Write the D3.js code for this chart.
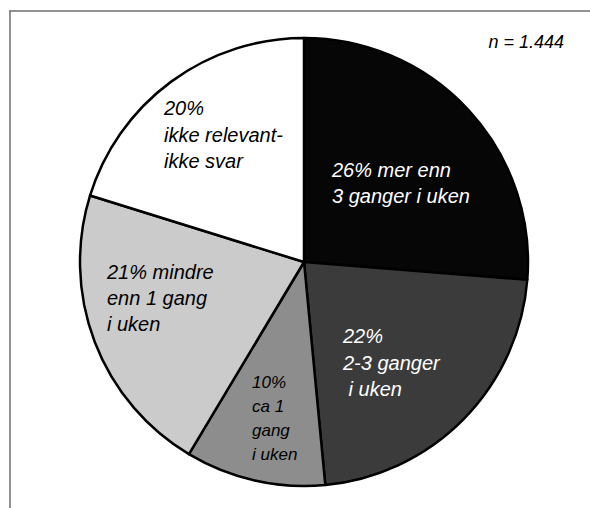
<!DOCTYPE html>
<html>
<head>
<meta charset="utf-8">
<script src="https://cdn.jsdelivr.net/npm/d3@7"></script>
<style>
  html, body { margin: 0; padding: 0; background: #fff; }
  svg { display: block; }
  text { font-family: "Liberation Sans", Arial, sans-serif; font-style: italic; }
</style>
</head>
<body>
<svg id="chart" width="590" height="508"></svg>
<script>
// Shares (%) in clockwise order starting at 12 o'clock
const categories = [
  "mer enn 3 ganger i uken",
  "2-3 ganger i uken",
  "ca 1 gang i uken",
  "mindre enn 1 gang i uken",
  "ikke relevant-ikke svar"
];
const values = [26, 22, 10, 21, 20];
const fills = ["#060606", "#3b3b3b", "#8d8d8d", "#cbcbcb", "#ffffff"];
const textColors = ["#ffffff", "#ffffff", "#000000", "#000000", "#000000"];
const labelLines = [
  ["26% mer enn", "3 ganger i uken"],
  ["22%", "2-3 ganger", " i uken"],
  ["10%", "ca 1", "gang", "i uken"],
  ["21% mindre", "enn 1 gang", "i uken"],
  ["20%", "ikke relevant-", "ikke svar"]
];
const sampleNote = "n = 1.444";

const svg = d3.select("#chart");
const W = 590, H = 508;

// Frame: top and left rules
svg.append("line").attr("x1", 9).attr("x2", W).attr("y1", 11).attr("y2", 11)
  .attr("stroke", "#6e6e6e").attr("stroke-width", 1.5);
svg.append("line").attr("x1", 10).attr("x2", 10).attr("y1", 11).attr("y2", H)
  .attr("stroke", "#6e6e6e").attr("stroke-width", 1.5);

const cx = 304, cy = 262, r = 224;
const g = svg.append("g").attr("transform", `translate(${cx},${cy})`);

const pie = d3.pie().sort(null).value(d => d)(values);
const arc = d3.arc().innerRadius(0).outerRadius(r);

g.selectAll("path.slice")
  .data(pie)
  .join("path")
  .attr("class", "slice")
  .attr("d", arc)
  .attr("fill", (d, i) => fills[i])
  .attr("stroke", "#000")
  .attr("stroke-width", 2.5)
  .attr("stroke-linejoin", "round");

// Slice labels: anchor point (left x, first baseline), font size, line height
const labelLayout = [
  { x: 332, y: 177, size: 20, lh: 26 },
  { x: 343, y: 343, size: 20, lh: 26.5 },
  { x: 252, y: 388, size: 17, lh: 24 },
  { x: 107, y: 279, size: 20, lh: 26 },
  { x: 164, y: 115, size: 20, lh: 26.5 }
];

labelLines.forEach((lines, i) => {
  const L = labelLayout[i];
  const t = svg.append("text")
    .attr("x", L.x).attr("y", L.y)
    .attr("fill", textColors[i])
    .attr("font-size", L.size)
    .style("white-space", "pre");
  lines.forEach((s, k) => {
    t.append("tspan").attr("x", L.x).attr("y", L.y + k * L.lh).text(s);
  });
});

svg.append("text")
  .attr("x", 564).attr("y", 48)
  .attr("text-anchor", "end")
  .attr("font-size", 18)
  .attr("fill", "#000")
  .text(sampleNote);
</script>
</body>
</html>
